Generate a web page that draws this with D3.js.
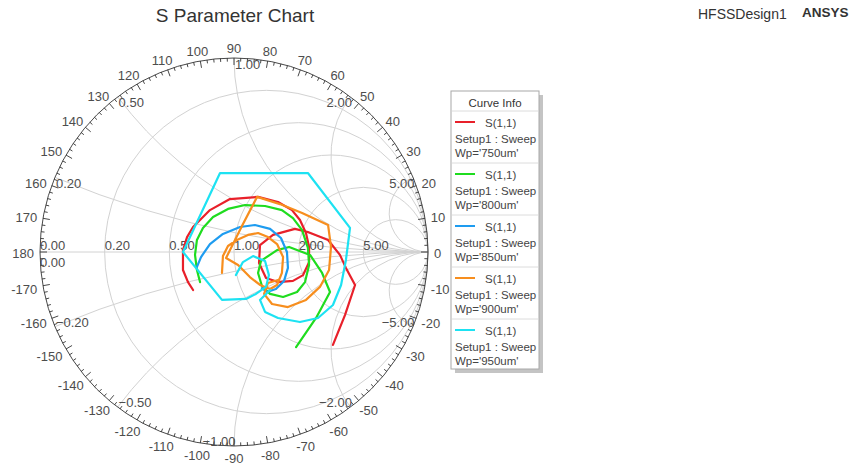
<!DOCTYPE html>
<html>
<head>
<meta charset="utf-8">
<script src="https://cdn.jsdelivr.net/npm/d3@7"></script>
<style>
  html, body { margin: 0; padding: 0; background: #fff; }
  svg { display: block; }
  text { font-family: "Liberation Sans", Arial, sans-serif; }
</style>
</head>
<body>
<svg id="chart" width="854" height="469"></svg>
<script>
// Reflection coefficient S(1,1) samples [re, im] for each patch width Wp
const s11_750 = [[-0.211,-0.196],[-0.237,-0.155],[-0.263,-0.093],[-0.263,0.010],[-0.242,0.077],[-0.211,0.129],[-0.124,0.216],[-0.021,0.273],[0.124,0.284],[0.227,0.258],[0.299,0.216],[0.340,0.165],[0.371,0.098],[0.387,0.026],[0.387,-0.052],[0.356,-0.119],[0.304,-0.149],[0.227,-0.155],[0.165,-0.134],[0.129,-0.057],[0.134,0.036],[0.201,0.088],[0.314,0.119],[0.381,0.103],[0.485,0.062],[0.546,-0.015],[0.577,-0.082],[0.624,-0.170],[0.572,-0.325],[0.510,-0.479]];
const s11_800 = [[-0.175,-0.155],[-0.191,-0.093],[-0.201,-0.015],[-0.191,0.062],[-0.160,0.124],[-0.108,0.180],[-0.031,0.222],[0.057,0.242],[0.160,0.237],[0.247,0.216],[0.304,0.175],[0.351,0.113],[0.381,0.021],[0.387,-0.067],[0.366,-0.155],[0.325,-0.206],[0.253,-0.232],[0.186,-0.216],[0.144,-0.175],[0.124,-0.108],[0.139,-0.046],[0.222,0.010],[0.284,0.026],[0.392,-0.015],[0.454,-0.108],[0.495,-0.206],[0.423,-0.340],[0.320,-0.490]];
const s11_850 = [[-0.191,-0.077],[-0.170,-0.026],[-0.124,0.041],[-0.057,0.093],[0.031,0.129],[0.108,0.139],[0.186,0.119],[0.242,0.072],[0.273,0.000],[0.278,-0.082],[0.258,-0.149],[0.216,-0.191],[0.170,-0.206],[0.144,-0.186]];
const s11_900 = [[-0.062,-0.108],[-0.057,-0.021],[-0.031,0.031],[0.015,0.062],[0.072,0.088],[0.124,0.098],[0.175,0.077],[0.222,0.041],[0.253,-0.026],[0.247,-0.108],[0.222,-0.170],[0.186,-0.191],[0.134,-0.170],[0.082,-0.129],[0.021,-0.067],[-0.041,-0.031],[0.041,0.134],[0.119,0.284],[0.237,0.247],[0.351,0.201],[0.485,0.139],[0.500,0.026],[0.490,-0.093],[0.443,-0.180],[0.371,-0.247],[0.278,-0.284],[0.196,-0.268],[0.155,-0.216],[0.175,-0.160],[0.227,-0.144]];
const s11_950 = [[0.010,-0.119],[0.046,-0.052],[0.098,-0.021],[0.160,-0.046],[0.180,-0.119],[0.165,-0.180],[0.113,-0.216],[0.062,-0.242],[-0.062,-0.247],[-0.263,0.000],[-0.072,0.407],[0.381,0.407],[0.598,0.124],[0.577,-0.041],[0.552,-0.170],[0.510,-0.273],[0.433,-0.340],[0.340,-0.361],[0.227,-0.340],[0.160,-0.309],[0.134,-0.247],[0.186,-0.196]];

const seriesNames = ["Wp='750um'", "Wp='800um'", "Wp='850um'", "Wp='900um'", "Wp='950um'"];
const seriesColors = ["#e8202a", "#1fdc1f", "#1e9cf0", "#f78e1e", "#1de2f2"];
const seriesData = [s11_750, s11_800, s11_850, s11_900, s11_950];

// Smith chart grid values
const resistanceTicks = [0.2, 0.5, 1, 2, 5];
const reactanceTicks = [0.2, 0.5, 1, 2, 5, -0.2, -0.5, -1, -2, -5];
const angleLabels = d3.range(-170, 181, 10);

const svg = d3.select("#chart");
const cx = 234, cy = 252, R = 194;
const x = d3.scaleLinear().domain([-1, 1]).range([cx - R, cx + R]);
const y = d3.scaleLinear().domain([-1, 1]).range([cy + R, cy - R]);
const fmt = d3.format(".2f");

// Header texts
svg.append("text").attr("x", 235).attr("y", 22).attr("text-anchor", "middle")
  .attr("font-size", 19).attr("fill", "#333").text("S Parameter Chart");
svg.append("text").attr("x", 698).attr("y", 19)
  .attr("font-size", 14).attr("fill", "#333").text("HFSSDesign1");
svg.append("text").attr("x", 802).attr("y", 17).attr("font-weight", "bold")
  .attr("font-size", 13.5).attr("fill", "#333").text("ANSYS");

const grid = svg.append("g").attr("fill", "none").attr("stroke", "#d2d2d2").attr("stroke-width", 1);

// constant-resistance circles
resistanceTicks.forEach(r => {
  grid.append("circle")
    .attr("cx", x(r / (1 + r))).attr("cy", y(0))
    .attr("r", x(1 / (1 + r)) - x(0));
});

// constant-reactance arcs, from the open-circuit point to the rim
reactanceTicks.forEach(xv => {
  const bx = (xv * xv - 1) / (xv * xv + 1), by = 2 * xv / (xv * xv + 1);
  const rr = x(1 / Math.abs(xv)) - x(0);
  grid.append("path")
    .attr("d", `M${x(1)},${y(0)} A${rr},${rr} 0 0 ${xv > 0 ? 1 : 0} ${x(bx)},${y(by)}`);
});

// real axis
grid.append("line").attr("x1", x(-1)).attr("x2", x(1)).attr("y1", y(0)).attr("y2", y(0));

// outer rim with angle ticks
svg.append("circle").attr("cx", cx).attr("cy", cy).attr("r", R)
  .attr("fill", "none").attr("stroke", "#333").attr("stroke-width", 0.9);

const ticks = svg.append("g").attr("stroke", "#333").attr("stroke-width", 0.9);
d3.range(0, 360, 2).forEach(a => {
  const t = a * Math.PI / 180;
  const len = a % 10 === 0 ? 7 : 3.5;
  const c = Math.cos(t), s = Math.sin(t);
  ticks.append("line")
    .attr("x1", x(c)).attr("y1", y(s))
    .attr("x2", x(c * (R - len) / R)).attr("y2", y(s * (R - len) / R));
});

const labelStyle = sel => sel.attr("font-size", 13).attr("fill", "#4d4d4d");

// angle labels around the rim
const angG = svg.append("g");
angleLabels.forEach(a => {
  const t = a * Math.PI / 180;
  const c = Math.cos(t), s = Math.sin(t);
  const txt = angG.append("text").call(labelStyle)
    .attr("text-anchor", "middle").attr("dominant-baseline", "central").text(a);
  const w = txt.node().getComputedTextLength(), h = 10;
  const k = (R + 6) / R;
  txt.attr("x", x(c * k) + c * w / 2)
     .attr("y", y(s * k) - s * h / 2 + 1.5);
});

// resistance labels along the real axis
const lab = svg.append("g");
[0].concat(resistanceTicks).forEach(r => {
  lab.append("text").call(labelStyle)
    .attr("x", x((r - 1) / (r + 1))).attr("y", y(0) - 2.5).text(fmt(r));
});
lab.append("text").call(labelStyle)
  .attr("x", x(-1)).attr("y", y(0) + 14.5).text(fmt(0));

// reactance labels at the rim
reactanceTicks.forEach(xv => {
  const bx = (xv * xv - 1) / (xv * xv + 1), by = 2 * xv / (xv * xv + 1);
  const start = xv > 0 ? xv <= 1 : xv > -1;
  lab.append("text").call(labelStyle)
    .attr("x", x(bx) + (start ? 1 : 1.5))
    .attr("y", y(by) + (xv > 0 ? 10.5 : 0))
    .attr("text-anchor", start ? "start" : "end")
    .text(fmt(xv));
});

// curves
const line = d3.line().x(d => x(d[0])).y(d => y(d[1]));
const curves = svg.append("g").attr("fill", "none").attr("stroke-width", 2.2)
  .attr("stroke-linejoin", "round").attr("stroke-linecap", "round");
seriesData.forEach((data, i) => {
  curves.append("path").attr("d", line(data)).attr("stroke", seriesColors[i]);
});

// legend
const lx = 451, ly = 91, lw = 88, headH = 20, entryH = 52;
const lh = headH + entryH * seriesNames.length - 2;
const legend = svg.append("g");
legend.append("rect").attr("x", lx + 4).attr("y", ly + 4).attr("width", lw).attr("height", lh).attr("fill", "#c4c4c4");
legend.append("rect").attr("x", lx).attr("y", ly).attr("width", lw).attr("height", lh)
  .attr("fill", "#fff").attr("stroke", "#a8a8a8");
legend.append("text").attr("x", lx + lw / 2).attr("y", ly + 16).attr("text-anchor", "middle")
  .attr("font-size", 11.5).attr("fill", "#333").text("Curve Info");
seriesNames.forEach((name, i) => {
  const top = ly + headH + i * entryH;
  legend.append("line").attr("x1", lx + 1).attr("x2", lx + lw - 1).attr("y1", top).attr("y2", top)
    .attr("stroke", "#dcdcdc");
  legend.append("line").attr("x1", lx + 4).attr("x2", lx + 24).attr("y1", top + 11).attr("y2", top + 11)
    .attr("stroke", seriesColors[i]).attr("stroke-width", 2);
  legend.append("text").attr("x", lx + 34).attr("y", top + 16).attr("font-size", 11.5).attr("fill", "#444").text("S(1,1)");
  legend.append("text").attr("x", lx + 4).attr("y", top + 32).attr("font-size", 11.5).attr("fill", "#444").text("Setup1 : Sweep");
  legend.append("text").attr("x", lx + 4).attr("y", top + 46).attr("font-size", 11.5).attr("fill", "#444").text(name);
});
</script>
</body>
</html>
